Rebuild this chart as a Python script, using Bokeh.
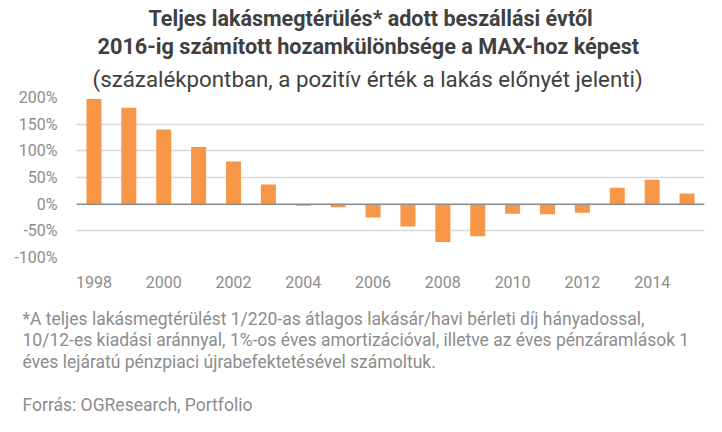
from bokeh.plotting import figure
from bokeh.models import Range1d, FixedTicker, PrintfTickFormatter, Span, Title
from bokeh.embed import file_html
from bokeh.resources import INLINE

years = list(range(1998, 2016))
values = [197, 181, 140, 107, 80, 37, -3, -6, -25, -42, -71, -60, -18, -19, -16, 31, 46, 20]
x_ticks = [1998, 2000, 2002, 2004, 2006, 2008, 2010, 2012, 2014]
y_ticks = [-100, -50, 0, 50, 100, 150, 200]

title_lines = [
    "Teljes lakásmegtérülés* adott beszállási évtől",
    "2016-ig számított hozamkülönbsége a MAX-hoz képest",
    "(százalékpontban, a pozitív érték a lakás előnyét jelenti)",
]
foot_lines = [
    "*A teljes lakásmegtérülést 1/220-as átlagos lakásár/havi bérleti díj hányadossal,",
    "10/12-es kiadási aránnyal, 1%-os éves amortizációval, illetve az éves pénzáramlások 1",
    "éves lejáratú pénzpiaci újrabefektetésével számoltuk.",
    "",
    "Forrás: OGResearch, Portfolio",
]

W, H = 722, 432
FX0, FX1, FY0, FY1 = 76, 704, 97, 257  # page coords of frame
XMIN, XMAX, YMIN, YMAX = 1997.5, 2015.5, -100, 200

p = figure(width=W, height=H, output_backend="svg", toolbar_location=None,
           x_range=Range1d(XMIN, XMAX), y_range=Range1d(YMIN, YMAX),
           min_border_left=FX0, min_border_right=W - FX1,
           min_border_top=FY0, min_border_bottom=H - FY1)
p.outline_line_color = None
p.background_fill_color = "white"
p.border_fill_color = "white"

p.vbar(x=years, top=values, bottom=0, width=0.43, color="#F79646", line_color=None)

p.xgrid.grid_line_color = None
p.ygrid.grid_line_color = "#d9d9d9"
p.ygrid.grid_line_width = 1.5
p.ygrid.ticker = FixedTicker(ticks=y_ticks)
p.add_layout(Span(location=0, dimension="width", line_color="#8c8c8c", line_width=1.5))

p.yaxis.ticker = FixedTicker(ticks=y_ticks)
p.yaxis.formatter = PrintfTickFormatter(format="%d%%")
p.xaxis.ticker = FixedTicker(ticks=x_ticks)
for ax in (p.xaxis[0], p.yaxis[0]):
    ax.axis_line_color = None
    ax.major_tick_line_color = None
    ax.minor_tick_line_color = None
    ax.major_label_text_font = "Roboto"
    ax.major_label_text_font_size = "16px"
    ax.major_label_text_color = "#8c8c8c"
p.yaxis.major_label_standoff = 13
p.xaxis.major_label_standoff = 12

# header: added from the line nearest the frame outward
header_style = [  # (weight, size, left offset from frame, standoff)
    ("bold", "21.5px", 72, 3),
    ("bold", "21.7px", 21, -1),
    ("normal", "22.3px", 16, 11),
]
for text, (weight, size, off, so) in reversed(list(zip(title_lines, header_style))):
    p.add_layout(Title(text=text, align="left", offset=off, standoff=so,
                       text_font="Roboto", text_font_style=weight,
                       text_font_size=size, text_color="#404040"), "above")

# footnotes: one multi-line block below the x axis
p.add_layout(Title(text="\n".join(foot_lines), align="left", offset=-54, standoff=32,
                   text_font="Roboto", text_font_style="normal",
                   text_font_size="17.5px", text_line_height=1.085,
                   text_color="#8c8c8c"), "below")

open("out.html", "w").write(file_html(p, INLINE))
